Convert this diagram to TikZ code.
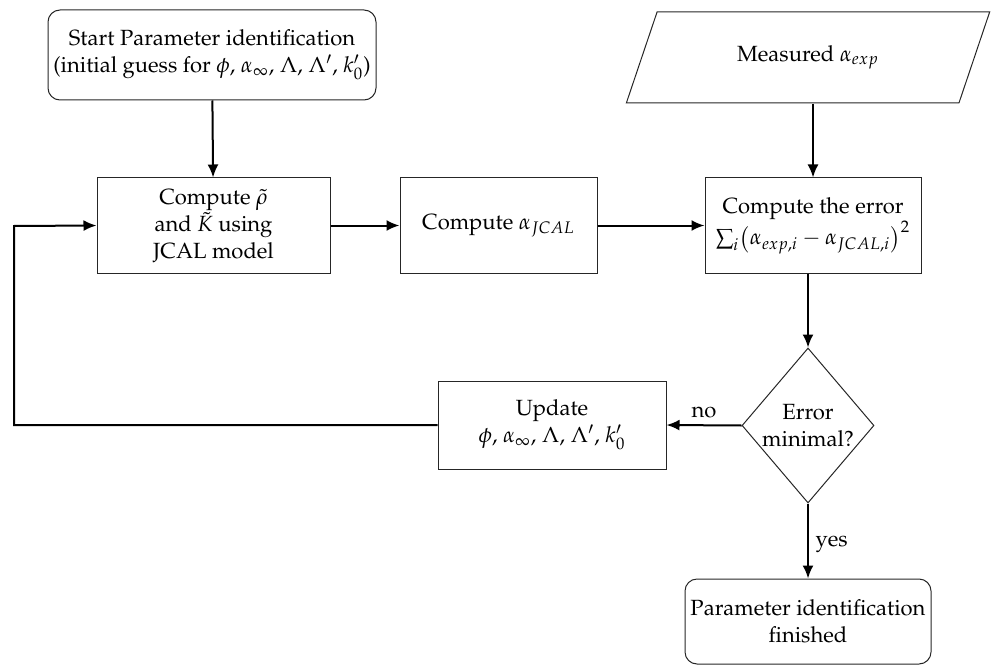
\documentclass[tikz,border=0pt]{standalone}
\usepackage[T1]{fontenc}
\usepackage{mathpazo}
\usepackage{tikz}
\usetikzlibrary{shapes.geometric,arrows.meta}

\begin{document}
\begin{tikzpicture}[x=0.5pt,y=-0.5pt, font=\fontsize{11}{13.5}\selectfont,
  procbox/.style={rectangle, draw=black!85, line width=0.5pt, align=center, inner sep=2pt},
  termbox/.style={procbox, rounded corners=6pt},
  flow/.style={line width=1pt, -{Latex[length=6.5pt,width=5.5pt]}}]
  \useasboundingbox (0,0) rectangle (1005,668);
  \node[termbox, minimum width=164pt, minimum height=45pt] (start) at (212,55) {Start Parameter identification\\(initial guess for $\phi$, $\alpha_\infty$, $\Lambda$, $\Lambda'$, $k_0'$)};
  \node[procbox, minimum width=116.5pt, minimum height=47.5pt] (model) at (213.5,225.5) {Compute $\tilde{\rho}$\\and $\tilde{K}$ using\\JCAL model};
  \node[procbox, minimum width=98.5pt, minimum height=47.5pt] (jcal) at (498.5,225.5) {Compute $\alpha_{JCAL}$};
  \node[procbox, minimum width=108pt, minimum height=47.5pt] (error) at (813,225.5) {Compute the error\\$\sum_i\!\left(\alpha_{exp,i}-\alpha_{JCAL,i}\right)^2$};
  \node[trapezium, trapezium left angle=67, trapezium right angle=113, trapezium stretches=true, draw=black!85, line width=0.5pt, minimum width=182pt, minimum height=45.5pt] (meas) at (808,57.5) {Measured $\alpha_{exp}$};
  \node[diamond, draw=black!85, line width=0.5pt, align=center, inner sep=0pt, aspect=0.85, minimum width=66pt, minimum height=77.5pt] (check) at (808,425.5) {Error\\minimal?};
  \node[procbox, minimum width=114pt, minimum height=44pt] (update) at (552,425) {Update\\$\phi$, $\alpha_\infty$, $\Lambda$, $\Lambda'$, $k_0'$};
  \node[termbox, minimum width=123pt, minimum height=42.5pt] (done) at (808,621.5) {Parameter identification\\finished};
  \coordinate (loopa) at (14,425);
  \coordinate (loopb) at (14,226);
  \draw[flow] (start) -- (model);
  \draw[flow] (model) -- (jcal);
  \draw[flow] (jcal) -- (error);
  \draw[flow] (meas.south -| error.north) -- (error.north);
  \draw[flow] (error.south -| check.north) -- (check.north);
  \draw[flow] (check.west) -- node[above] {no} (update.east);
  \draw[flow] (check.south) -- node[right, pos=0.55] {yes} (done.north);
  \draw[flow] (update.west) -- (loopa) -- (loopb) -- (model.west);
\end{tikzpicture}
\end{document}
